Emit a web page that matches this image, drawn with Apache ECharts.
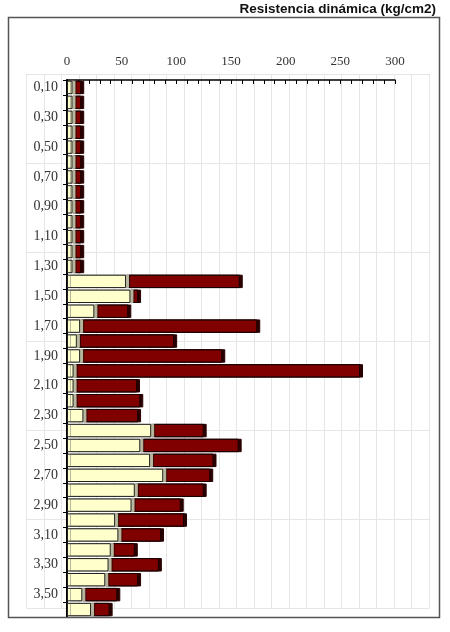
<!DOCTYPE html>
<html>
<head>
<meta charset="utf-8">
<script src="https://cdn.jsdelivr.net/npm/echarts@6/dist/echarts.min.js"></script>
<style>
  html, body { margin: 0; padding: 0; background: #fff; }
  #chart { width: 450px; height: 632px; }
</style>
</head>
<body>
<div id="chart"></div>
<script>
// profundidades (m)
const profundidades = ['0,10', '0,20', '0,30', '0,40', '0,50', '0,60', '0,70', '0,80', '0,90', '1,00',
  '1,10', '1,20', '1,30', '1,40', '1,50', '1,60', '1,70', '1,80', '1,90', '2,00',
  '2,10', '2,20', '2,30', '2,40', '2,50', '2,60', '2,70', '2,80', '2,90', '3,00',
  '3,10', '3,20', '3,30', '3,40', '3,50', '3,60']
// tramo claro (crema)
const valoresClaros = [5, 5, 5, 5, 5, 5, 5, 5, 5, 5, 5, 5, 5,
  54, 58, 25, 12, 9, 12, 6, 6, 6, 15, 77, 67, 76, 88, 62, 59, 44, 47, 40, 38, 35, 14, 22]
// tramo oscuro (granate)
const valoresOscuros = [8, 8, 8, 8, 8, 8, 8, 8, 8, 8, 8, 8, 8,
  104, 7, 31, 162, 89, 130, 262, 58, 61, 50, 48, 90, 58, 43, 63, 45, 63, 39, 22, 46, 30, 32, 17]
const ticksX = [0, 50, 100, 150, 200, 250, 300]

const chart = echarts.init(document.getElementById('chart'))

const serif = 'Liberation Serif'

const option = {
  animation: false,
  title: {
    text: 'Resistencia dinámica (kg/cm2)',
    right: 14,
    top: 2,
    padding: 0,
    textStyle: {
      fontFamily: 'Liberation Sans',
      fontWeight: 'bold',
      fontSize: 13.5,
      color: '#111'
    }
  },
  // marco exterior
  graphic: [{
    type: 'rect',
    shape: { x: 8.5, y: 17.5, width: 431, height: 600 },
    style: { fill: 'none', stroke: '#555', lineWidth: 1.5 },
    z: 10
  }],
  grid: [
    { left: 67, right: 55, top: 80, bottom: 15 },
    // cuadricula de fondo
    { left: 26.7, top: 74, width: 402.5, height: 534 }
  ],
  xAxis: [{
    type: 'value',
    position: 'top',
    min: ticksX[0],
    max: ticksX[ticksX.length - 1],
    interval: 50,
    axisLine: { show: true, lineStyle: { color: '#000', width: 1.5 } },
    axisTick: { show: true, inside: true, length: 4, lineStyle: { color: '#000' } },
    minorTick: { show: true, splitNumber: 5, length: 4, lineStyle: { color: '#000' } },
    splitLine: { show: false },
    axisLabel: {
      margin: 12,
      fontFamily: serif,
      fontSize: 13,
      color: '#333'
    }
  }, {
    type: 'value',
    gridIndex: 1,
    min: 0,
    max: 23,
    interval: 1,
    axisLine: { show: false },
    axisTick: { show: false },
    axisLabel: { show: false },
    splitLine: { show: true, lineStyle: { color: '#e6e6e6', width: 1 } }
  }],
  yAxis: [{
    type: 'category',
    data: profundidades,
    inverse: true,
    axisLine: { show: true, lineStyle: { color: '#000', width: 2 } },
    axisTick: { show: true, interval: 0, length: 4, lineStyle: { color: '#000' } },
    axisLabel: {
      interval: 1,
      margin: 9,
      fontFamily: serif,
      fontSize: 14,
      color: '#333'
    }
  }, {
    type: 'value',
    gridIndex: 1,
    min: 0,
    max: 6,
    interval: 1,
    axisLine: { show: false },
    axisTick: { show: false },
    axisLabel: { show: false },
    splitLine: { show: true, lineStyle: { color: '#e6e6e6', width: 1 } }
  }],
  series: [{
    type: 'bar',
    stack: 'total',
    data: valoresClaros,
    barCategoryGap: '10%',
    z: 3,
    itemStyle: {
      color: '#ffffcc',
      borderColor: '#222',
      borderWidth: 1,
      shadowColor: '#b9b9a0',
      shadowOffsetX: 3,
      shadowBlur: 0
    }
  }, {
    type: 'bar',
    stack: 'total',
    data: valoresOscuros,
    barCategoryGap: '10%',
    z: 2,
    itemStyle: {
      color: '#800000',
      borderColor: '#1a0000',
      borderWidth: 1,
      shadowColor: '#2a0000',
      shadowOffsetX: 3,
      shadowBlur: 0
    }
  }]
}

chart.setOption(option)
</script>
</body>
</html>
